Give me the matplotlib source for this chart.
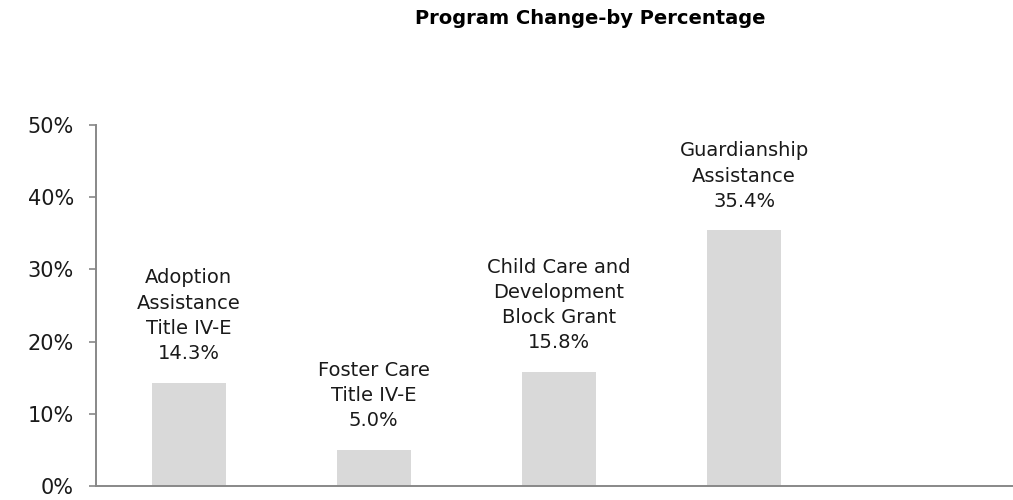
import matplotlib.pyplot as plt
from matplotlib.ticker import FuncFormatter

programs = ["Adoption\nAssistance\nTitle IV-E",
            "Foster Care\nTitle IV-E",
            "Child Care and\nDevelopment\nBlock Grant",
            "Guardianship\nAssistance"]
pct_change = [14.3, 5.0, 15.8, 35.4]
y_ticks = [0, 10, 20, 30, 40, 50]

plt.rcParams['font.family'] = 'DejaVu Sans'

fig = plt.figure(figsize=(10.13, 5.0), dpi=100)
ax = fig.add_axes([96 / 1013, 14 / 500, 926 / 1013, 361 / 500])

xs = list(range(len(programs)))
bars = ax.bar(xs, pct_change, width=0.4, color='#d9d9d9')

# label above each bar: name + value
for x, name, v in zip(xs, programs, pct_change):
    ax.annotate(name + "\n%.1f%%" % v, (x, v), xytext=(0, 14), textcoords='offset points',
                ha='center', va='bottom', fontsize=14, linespacing=1.42, color='#1a1a1a')

ax.set_xlim(-0.5, 4.5)
ax.set_ylim(0, 50)
ax.set_yticks(y_ticks)
ax.yaxis.set_major_formatter(FuncFormatter(lambda v, p: "%d%%" % v))
ax.set_xticks([])
ax.tick_params(axis='y', length=5, width=1.2, color='#888888', labelsize=15, pad=11, labelcolor='#1a1a1a')

for s in ['top', 'right']:
    ax.spines[s].set_visible(False)
for s in ['left', 'bottom']:
    ax.spines[s].set_color('#888888')
    ax.spines[s].set_linewidth(1.4)

fig.text(590 / 1013, 1 - 18 / 500, "Program Change-by Percentage", ha='center', va='center',
         fontsize=14, fontweight='bold')

fig.savefig('out.png', dpi=100)
